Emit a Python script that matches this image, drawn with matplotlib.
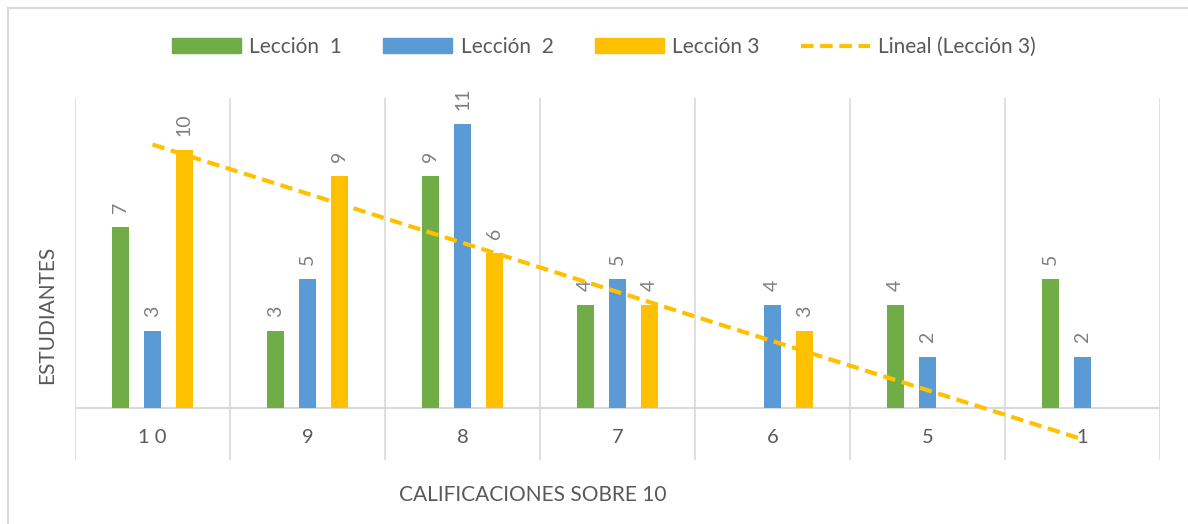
import matplotlib.pyplot as plt
import numpy as np
from matplotlib.lines import Line2D
from matplotlib.patches import Patch, Rectangle

categorias = ['1 0', '9', '8', '7', '6', '5', '1']
leccion1 = [7, 3, 9, 4, np.nan, 4, 5]
leccion2 = [3, 5, 11, 5, 4, 2, 2]
leccion3 = [10, 9, 6, 4, 3, np.nan, np.nan]

verde = '#70AD47'
azul = '#5B9BD5'
amarillo = '#FFC000'
gris = '#595959'
linea = '#D9D9D9'

plt.rcParams['font.family'] = ['Lato', 'DejaVu Sans']

fig = plt.figure(figsize=(11.88, 5.24), dpi=100)
ax = fig.add_axes([75/1188, 1-460/524, 1085/1188, 362/524])

x = np.arange(1, len(categorias)+1)
ancho = 0.11
paso = 0.206

for serie, color, dx in [(leccion1, verde, -paso), (leccion2, azul, 0), (leccion3, amarillo, paso)]:
    vals = np.array(serie, dtype=float)
    ok = ~np.isnan(vals)
    ax.bar(x[ok]+dx, vals[ok], width=ancho, color=color, zorder=3)
    for xi, v in zip(x[ok]+dx, vals[ok]):
        ax.annotate(f'{int(v)}', (xi, v), xytext=(0, 10), textcoords='offset points',
                    rotation=90, ha='center', va='bottom', fontsize=14, color='#7F7F7F')

# linea de tendencia lineal (Lección 3)
v3 = np.array(leccion3, dtype=float)
ok3 = ~np.isnan(v3)
m, b = np.polyfit(x[ok3], v3[ok3], 1)
ax.plot(x, m*x+b, color=amarillo, lw=3, ls=(0, (3, 1.6)), zorder=4, clip_on=False)

# ejes y divisiones
ax.axhline(0, color=linea, lw=1.5, zorder=2)
for xv in np.arange(0.5, len(categorias)+1, 1):
    ax.axvline(xv, color=linea, lw=1.2, zorder=1)
for xi, c in zip(x, categorias):
    ax.text(xi, -1.12, c, ha='center', va='center', fontsize=14.5, color=gris)

ax.set_xlim(0.5, len(categorias)+0.5)
ax.set_ylim(-2, 12)
ax.set_xticks([])
ax.set_yticks([])
for s in ax.spines.values():
    s.set_visible(False)

fig.text(47/1188, 1-315/524, 'ESTUDIANTES', rotation=90, ha='center', va='center', fontsize=15, color=gris)
fig.text(533/1188, 1-495/524, 'CALIFICACIONES SOBRE 10', ha='center', va='center', fontsize=15, color=gris)

handles = [Patch(color=verde), Patch(color=azul), Patch(color=amarillo),
           Line2D([0], [0], color=amarillo, lw=3, ls=(0, (3, 1.6)))]
etiquetas = ['Lección  1', 'Lección  2', 'Lección 3', 'Lineal (Lección 3)']
leg = fig.legend(handles, etiquetas, loc='center', bbox_to_anchor=(604/1188, 1-47/524), ncol=4,
                 frameon=False, fontsize=15, handlelength=3.3, handleheight=0.75,
                 columnspacing=2.0, handletextpad=0.4)
for t in leg.get_texts():
    t.set_color(gris)

fig.add_artist(Rectangle((8/1188, -0.1), 1.2, 1-8/524+0.1, transform=fig.transFigure,
                         fill=False, edgecolor=linea, lw=1.5))

fig.savefig('out.png', dpi=100)
